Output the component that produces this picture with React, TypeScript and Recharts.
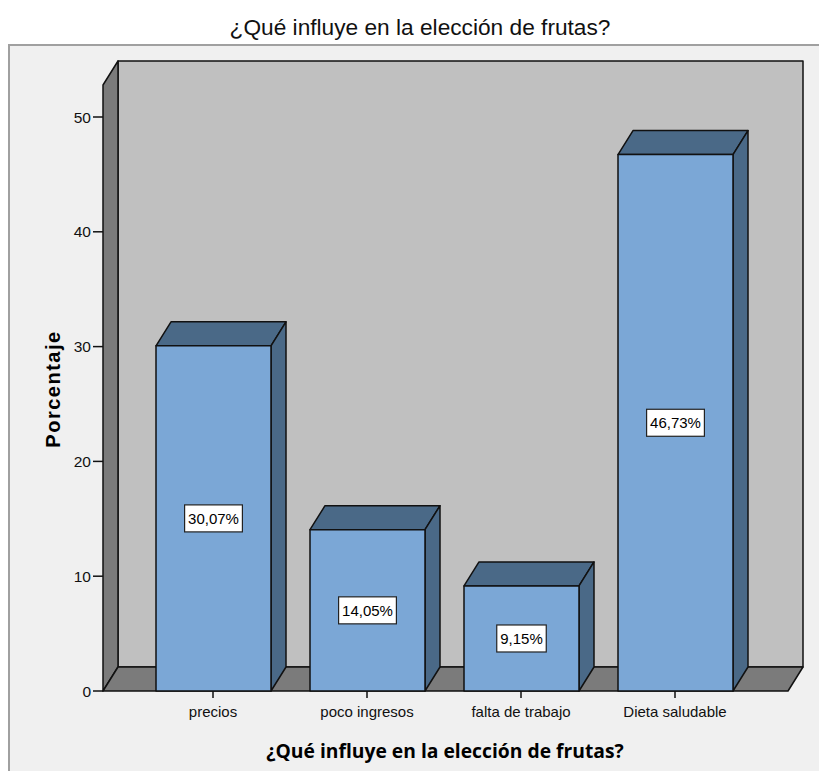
import React from 'react';
import { BarChart, Bar, XAxis, YAxis, LabelList } from 'recharts';

// Values
const categories = ['precios', 'poco ingresos', 'falta de trabajo', 'Dieta saludable'];
const porcentajes = [30.07, 14.05, 9.15, 46.73];
const yTicks = [0, 10, 20, 30, 40, 50];
const valueLabels = ['30,07%', '14,05%', '9,15%', '46,73%'];

const data = categories.map((name, i) => ({ name, value: porcentajes[i], label: valueLabels[i] }));

const W = 819;
const H = 771;
// plot (front plane)
const PL = 103;
const PR = 788;
const PT = 117;
const PB = 691;
// depth of the 3D effect
const DX = 15;
const DY = 24;

const FRONT = '#7ba7d6';
const DARK = '#4a6987';
const WALL = '#c0c0c0';
const FLOOR = '#7b7b7b';

const font = "'Liberation Sans', Arial, sans-serif";

const Bar3D = (props: any) => {
  const { x, y, width, height } = props;
  if (height == null || width == null) return null;
  const r = x + width;
  const b = y + height;
  return (
    <g stroke="#111" strokeWidth={1.5} strokeLinejoin="round">
      <polygon points={`${x},${y} ${x + DX},${y - DY} ${r + DX},${y - DY} ${r},${y}`} fill={DARK} />
      <polygon points={`${r},${y} ${r + DX},${y - DY} ${r + DX},${b - DY} ${r},${b}`} fill={DARK} />
      <rect x={x} y={y} width={width} height={height} fill={FRONT} />
    </g>
  );
};

const ValueBox = (props: any) => {
  const { x, y, width, height, value } = props;
  const text = String(value);
  const tw = text.length * 8.3 + 8;
  const th = 27;
  const cx = x + width / 2;
  const cy = y + height / 2;
  return (
    <g>
      <rect x={cx - tw / 2} y={cy - th / 2} width={tw} height={th} fill="#fff" stroke="#222" strokeWidth={1.2} />
      <text x={cx} y={cy} textAnchor="middle" dominantBaseline="central" fontFamily={font} fontSize={15} fill="#000">
        {text}
      </text>
    </g>
  );
};

const Decor = () => (
  <svg width={W} height={H} style={{ position: 'absolute', left: 0, top: 0 }}>
    <rect x={0} y={0} width={W} height={H} fill="#fff" />
    <rect x={9} y={45} width={W + 20} height={H + 20} fill="#f0f0f0" stroke="#a0a0a0" strokeWidth={2} />
    <text x={420} y={27} textAnchor="middle" dominantBaseline="central" fontFamily={font} fontSize={22.7} fill="#111">
      ¿Qué influye en la elección de frutas?
    </text>
    <g stroke="#111" strokeWidth={1.5} strokeLinejoin="round">
      <rect x={PL + DX} y={61} width={PR - PL} height={PB - DY - 61} fill={WALL} />
      <polygon points={`${PL},${85} ${PL + DX},${61} ${PL + DX},${PB - DY} ${PL},${PB}`} fill={FLOOR} />
      <polygon points={`${PL},${PB} ${PL + DX},${PB - DY} ${PR + DX},${PB - DY} ${PR},${PB}`} fill={FLOOR} />
    </g>
    <text
      x={53}
      y={389}
      transform="rotate(-90 53 389)"
      textAnchor="middle"
      dominantBaseline="central"
      fontFamily={font}
      fontWeight="bold"
      fontSize={20}
      letterSpacing={1.5}
      fill="#000"
    >
      Porcentaje
    </text>
    <text x={445} y={750} textAnchor="middle" dominantBaseline="central" fontFamily="'Open Sans', sans-serif" fontWeight="bold" fontSize={19.3} fill="#000">
      ¿Qué influye en la elección de frutas?
    </text>
  </svg>
);

export default function App() {
  return (
    <div style={{ position: 'absolute', left: 0, top: 0, width: W, height: H }}>
      <Decor />
      <div style={{ position: 'absolute', left: 0, top: 0 }}>
        <BarChart width={W} height={H} data={data} margin={{ top: PT, right: W - PR, bottom: 0, left: 0 }}>
          <XAxis
            dataKey="name"
            padding={{ left: 33, right: 36 }}
            axisLine={false}
            tickLine={{ stroke: '#111', strokeWidth: 1.5 }}
            tickSize={7}
            tickMargin={8}
            tick={{ fill: '#111', fontSize: 15, fontFamily: font }}
            height={H - PB}
            interval={0}
          />
          <YAxis
            domain={[0, 50]}
            ticks={yTicks}
            axisLine={false}
            tickLine={{ stroke: '#111', strokeWidth: 1.5 }}
            tickSize={10}
            tickMargin={2}
            tick={{ fill: '#111', fontSize: 15.5, fontFamily: font }}
            width={PL}
          />
          <Bar dataKey="value" barSize={115} shape={<Bar3D />} isAnimationActive={false}>
            <LabelList dataKey="label" content={<ValueBox />} />
          </Bar>
        </BarChart>
      </div>
    </div>
  );
}
